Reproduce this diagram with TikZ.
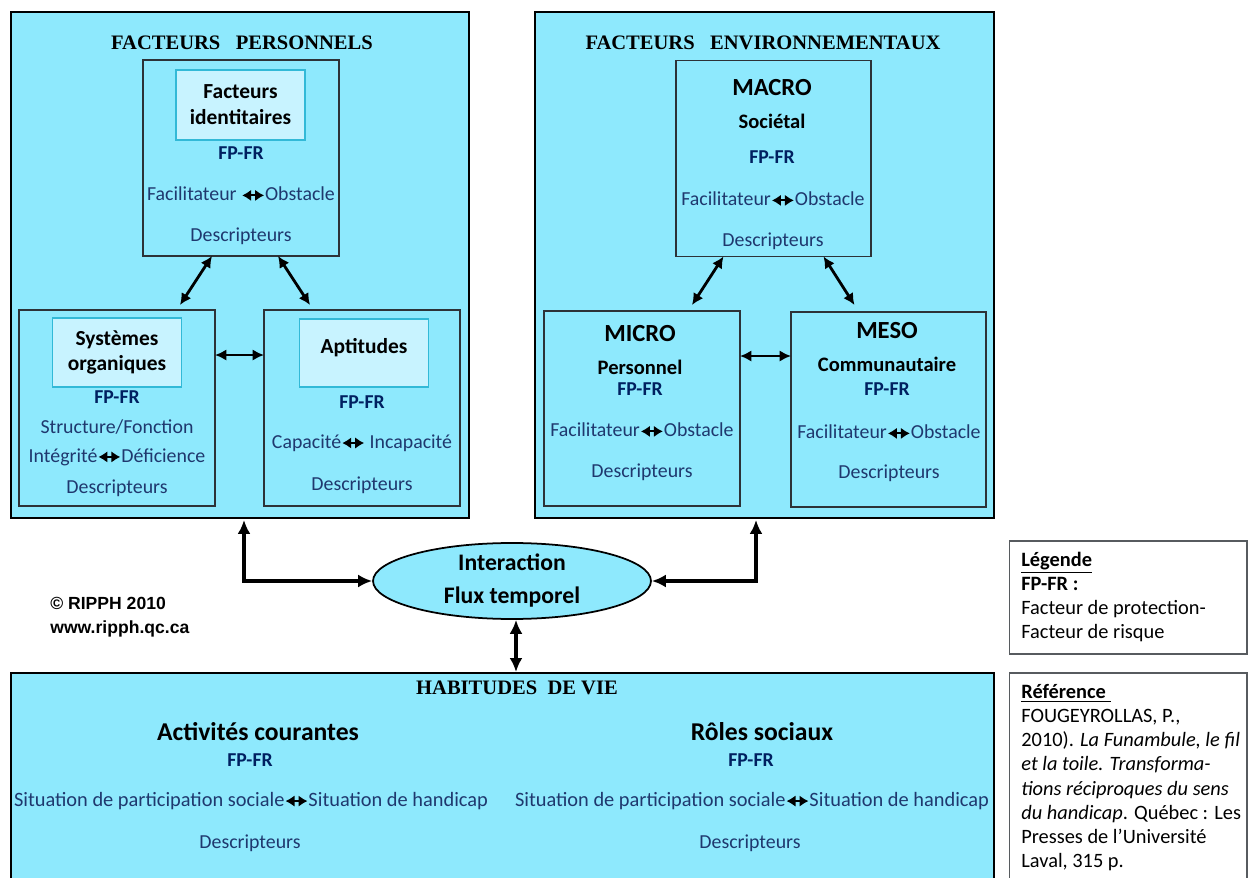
\documentclass[tikz,border=0pt]{standalone}
\usepackage{fontspec}
\setmainfont{Carlito}
\newfontfamily\titlefont{Liberation Serif}
\newfontfamily\arialfont{Liberation Sans}
\usepackage{xcolor}
\usetikzlibrary{shapes.geometric,arrows.meta,calc}

\definecolor{cyanfill}{RGB}{142,233,253}
\definecolor{lightfill}{RGB}{200,243,255}
\definecolor{lightline}{RGB}{50,185,215}
\definecolor{boxline}{RGB}{45,50,55}
\definecolor{textblue}{RGB}{31,56,110}
\definecolor{fpblue}{RGB}{0,32,96}

% small black double arrow between words
\newcommand\lrar{\tikz[baseline=-0.55ex]\draw[black, line width=1.1pt,
  {Latex[length=1.8mm,width=2.3mm]}-{Latex[length=1.8mm,width=2.3mm]}]
  (0,0) -- (0.44cm,0);}

\begin{document}
\begin{tikzpicture}[x=0.02cm, y=-0.02cm,
  outer/.style={draw=black, line width=1.5pt, fill=cyanfill,
    inner sep=0pt, outer sep=0pt},
  box/.style={draw=boxline, line width=0.8pt, fill=cyanfill,
    minimum width=3.92cm, minimum height=3.92cm, inner sep=0pt, outer sep=0pt},
  inbox/.style={draw=lightline, line width=0.8pt, fill=lightfill,
    minimum width=2.58cm, minimum height=1.4cm, inner sep=0pt, align=center,
    font=\bfseries\fontsize{12.2}{14.7}\selectfont},
  legbox/.style={draw=boxline!80, line width=0.6pt, fill=white,
    minimum width=4.76cm, inner sep=0pt, outer sep=0pt},
  ttl/.style={inner sep=0pt, font=\titlefont\bfseries\fontsize{11.7}{13}\selectfont},
  head/.style={inner sep=0pt, font=\bfseries\fontsize{14}{16}\selectfont},
  sub/.style={inner sep=0pt, font=\bfseries\fontsize{11.7}{13}\selectfont},
  fpfr/.style={inner sep=0pt, text=fpblue, font=\bfseries\fontsize{11.2}{13}\selectfont},
  txt/.style={inner sep=0pt, text=textblue, font=\fontsize{11.3}{13}\selectfont},
  arr/.style={{Latex[length=2.3mm,width=2.3mm]}-{Latex[length=2.3mm,width=2.3mm]},
    line width=1.6pt},
  arrb/.style={{Latex[length=2.8mm,width=2.6mm]}-{Latex[length=2.8mm,width=2.6mm]},
    line width=1.9pt}
]
\useasboundingbox (0,0) rectangle (1248,878);

% Facteurs personnels
\node[outer, minimum width=9.16cm, minimum height=10.12cm] (FP) at (240,265) {};
\node[ttl] (FPt) at (242,43) {FACTEURS\ \ \ PERSONNELS};
\node[box] (FI) at (241,158) {};
\node[inbox] (FIi) at (240.5,105) {Facteurs\\identitaires};
\node[fpfr] (FIf) at (241,153) {FP-FR};
\node[txt] (FIo) at (241,194) {Facilitateur \lrar Obstacle};
\node[txt] (FId) at (241,236) {Descripteurs};
\node[box] (SO) at (117,408) {};
\node[inbox, minimum height=1.38cm] (SOi) at (117,352.5) {Systèmes\\organiques};
\node[fpfr] (SOf) at (117,397) {FP-FR};
\node[txt] (SOs) at (117,427) {Structure/Fonction};
\node[txt] (SOo) at (117,457) {Intégrité\lrar Déficience};
\node[txt] (SOd) at (117,488) {Descripteurs};
\node[box] (AP) at (362,408) {};
\node[inbox, minimum height=1.36cm] (APi) at (364,353) {};
\node[inbox, draw=none, fill=none, minimum height=0pt] (APt) at (364,348) {Aptitudes};
\node[fpfr] (APf) at (362,402) {FP-FR};
\node[txt] (APo) at (362,443) {Capacité\lrar\ Incapacité};
\node[txt] (APd) at (362,485) {Descripteurs};
\draw[arr] ($(FI.south)+(-29,0)$) -- ($(SO.north)+(63,-5)$);
\draw[arr] ($(FI.south)+(37,0)$) -- ($(AP.north)+(-52,-5)$);
\draw[arr] ($(SO.north east)+(0,45)$) -- ($(AP.north west)+(0,45)$);

% Facteurs environnementaux
\node[outer, minimum width=9.18cm, minimum height=10.12cm] (FE) at (764.5,265) {};
\node[ttl] (FEt) at (763,43) {FACTEURS\ \ \ ENVIRONNEMENTAUX};
\node[box, minimum width=3.9cm] (MA) at (773.5,158.5) {};
\node[head] (MAh) at (772,88) {MACRO};
\node[sub] (MAs) at (772,121) {Sociétal};
\node[fpfr] (MAf) at (772,157) {FP-FR};
\node[txt] (MAo) at (773,199) {Facilitateur\lrar Obstacle};
\node[txt] (MAd) at (773,241) {Descripteurs};
\node[box, minimum height=3.9cm] (MI) at (642,408.5) {};
\node[head] (MIh) at (640,334) {MICRO};
\node[sub] (MIs) at (640,367) {Personnel};
\node[fpfr] (MIf) at (640,389) {FP-FR};
\node[txt] (MIo) at (642,430) {Facilitateur\lrar Obstacle};
\node[txt] (MId) at (642,472) {Descripteurs};
\node[box, minimum width=3.9cm, minimum height=3.9cm] (ME) at (888.5,409.5) {};
\node[head] (MEh) at (887,331) {MESO};
\node[sub] (MEs) at (887,364) {Communautaire};
\node[fpfr] (MEf) at (887,389) {FP-FR};
\node[txt] (MEo) at (889,432) {Facilitateur\lrar Obstacle};
\node[txt] (MEd) at (889,473) {Descripteurs};
\draw[arr] ($(MA.south)+(-50,0)$) -- ($(MI.north)+(50,-6)$);
\draw[arr] ($(MA.south)+(50,0)$) -- ($(ME.north)+(-34,-7)$);
\draw[arr] ($(MI.north east)+(0,45)$) -- ($(ME.north west)+(0,44)$);

% Interaction
\node[ellipse, draw, line width=1pt, fill=cyanfill, minimum width=5.56cm,
  minimum height=1.52cm, inner sep=0pt, align=center,
  font=\bfseries\fontsize{13.5}{18.8}\selectfont] (IA) at (512,581)
  {Interaction\\Flux temporel};
\node[anchor=west, inner sep=0pt, align=left,
  font=\arialfont\bfseries\fontsize{10}{13.5}\selectfont] (CR) at (50,617)
  {© RIPPH 2010\\www.ripph.qc.ca};

% Habitudes de vie
\node[outer, minimum width=19.66cm, minimum height=4.24cm] (HV) at (502.5,779) {};
\node[ttl] (HVt) at (517,688) {HABITUDES\ \ DE VIE};
\node[inner sep=0pt, font=\bfseries\fontsize{14.6}{16}\selectfont] (AC) at (258,732) {Activités courantes};
\node[fpfr] (ACf) at (250,760) {FP-FR};
\node[txt, font=\fontsize{11.6}{13}\selectfont] (ACo) at (251,801)
  {Situation de participation sociale\lrar Situation de handicap};
\node[txt] (ACd) at (250,843) {Descripteurs};
\node[inner sep=0pt, font=\bfseries\fontsize{14.6}{16}\selectfont] (RS) at (762,732) {Rôles sociaux};
\node[fpfr] (RSf) at (751,760) {FP-FR};
\node[txt, font=\fontsize{11.6}{13}\selectfont] (RSo) at (752,801)
  {Situation de participation sociale\lrar Situation de handicap};
\node[txt] (RSd) at (750,843) {Descripteurs};

\draw[arrb] ($(FP.south)+(4,2)$) |- (IA.west);
\draw[arrb] ($(FE.south)+(-8.5,2)$) |- (IA.east);
\draw[arrb] ($(IA.south)+(4,0)$) -- ($(IA.south |- HV.north)+(4,-1)$);

% Legende et reference
\node[legbox, minimum height=2.26cm] (LG) at (1128,597.5) {};
\node[anchor=north west, inner sep=0pt, align=left,
  font=\fontsize{11.6}{13.7}\selectfont] (LGt) at (1021,552)
  {\textbf{\underline{Légende}}\\\textbf{FP-FR :}\\Facteur de protection-\\Facteur de risque};
\node[legbox, minimum height=4.24cm] (RF) at (1128,779) {};
\node[anchor=north west, inner sep=0pt, align=left,
  font=\fontsize{11.6}{13.75}\selectfont] (RFt) at (1021,684)
  {\textbf{\underline{Référence\ }}\\FOUGEYROLLAS, P.,\\
   2010). \textit{La Funambule, le fil}\\\textit{et la toile. Transforma-}\\
   \textit{tions réciproques du sens}\\\textit{du handicap}. Québec : Les\\
   Presses de l’Université\\Laval, 315 p.};
\end{tikzpicture}
\end{document}
